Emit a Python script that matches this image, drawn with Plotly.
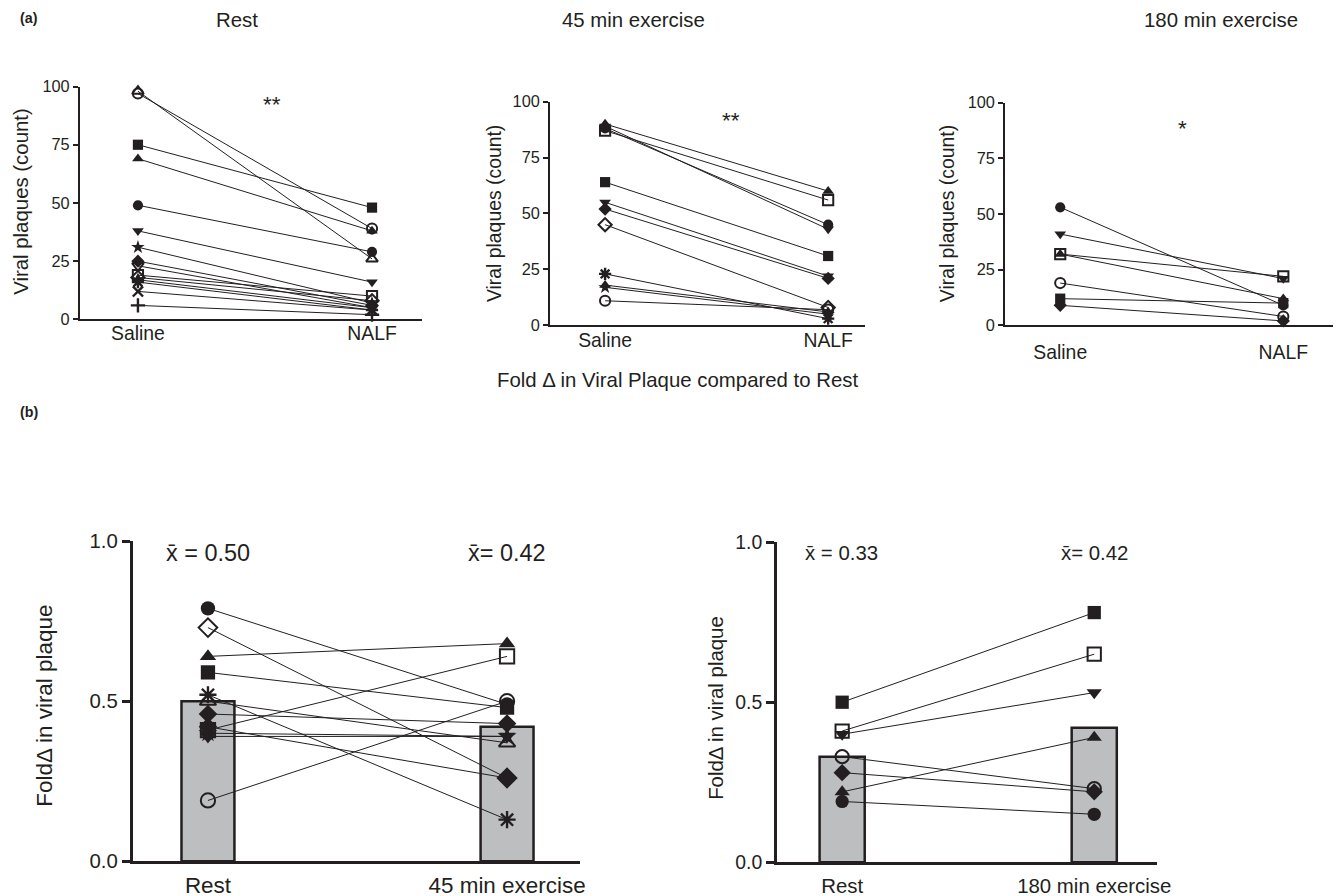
import plotly.graph_objects as go

# ---------------- data ----------------
cats_a = ["Saline", "NALF"]

rest_saline = [97, 98, 75, 69, 49, 38, 31, 25, 23, 19, 18, 17, 16, 12, 6]
rest_nalf   = [39, 26, 48, 38, 29, 16, 7, 6, 5, 10, 8, 5, 4, 4, 2]

ex45_saline = [90, 87, 88, 89, 64, 55, 52, 45, 23, 18, 17, 11]
ex45_nalf   = [60, 56, 45, 43, 31, 22, 21, 8, 3, 6, 5, 7]

ex180_saline = [53, 41, 32, 32, 19, 12, 9]
ex180_nalf   = [9, 21, 22, 12, 4, 10, 2]

cats_b1 = ["Rest", "45 min exercise"]
fold45_rest = [0.79, 0.73, 0.64, 0.59, 0.52, 0.50, 0.46, 0.41, 0.42, 0.39, 0.40, 0.19]
fold45_ex   = [0.49, 0.26, 0.68, 0.48, 0.13, 0.37, 0.43, 0.64, 0.26, 0.39, 0.39, 0.50]
fold45_means = [0.50, 0.42]

cats_b2 = ["Rest", "180 min exercise"]
fold180_rest = [0.50, 0.41, 0.40, 0.22, 0.33, 0.28, 0.19]
fold180_ex   = [0.78, 0.65, 0.53, 0.39, 0.23, 0.22, 0.15]
fold180_means = [0.33, 0.42]

yticks_a = [0, 25, 50, 75, 100]
yticks_b = [0.0, 0.5, 1.0]

# ---------------- styles ----------------
sym_rest = ["circle-open", "triangle-up-open", "square", "triangle-up", "circle",
            "triangle-down", "star", "diamond", "triangle-down-open", "square-open",
            "diamond-open", "diamond-tall", "asterisk-open", "x-thin-open", "cross-thin-open"]
sym_45 = ["triangle-up", "square-open", "circle", "triangle-down", "square",
          "triangle-down", "diamond", "diamond-open", "asterisk-open", "triangle-up",
          "star", "circle-open"]
sym_180 = ["circle", "triangle-down", "square-open", "triangle-up", "circle-open",
           "square", "diamond"]
sym_b1 = ["circle", "diamond-open", "triangle-up", "square", "asterisk-open",
          "triangle-up-open", "diamond", "square-open", "diamond", "triangle-down",
          "star", "circle-open"]
sym_b2 = ["square", "square-open", "triangle-down", "triangle-up", "circle-open",
          "diamond", "circle"]

INK = "#231f20"
FONT = "Liberation Sans, Arial, sans-serif"
W, H = 1341, 896

# page-to-figure calibration (the page is shown slightly offset / scaled)
OX, OY, SX, SY = 8.1, 20.7, 0.990, 0.972
FS = 1 / 0.98  # font/marker compensation


def fx(px):
    return (px - OX) / SX


def fy(py):
    return (py - OY) / SY


def clamp(v):
    return min(1.0, max(0.0, v))


def xd(a, b):
    return [clamp(fx(a) / W), clamp(fx(b) / W)]


def yd(top, bottom):
    return [clamp(1 - fy(bottom) / H), clamp(1 - fy(top) / H)]


def xrange(left, right, c0, c1):
    u = c1 - c0
    return [(left - c0) / u, 1 + (right - c1) / u]


fig = go.Figure()


def add_pairs(xa, ya, cats, v0, v1, syms, size):
    for a, b, s in zip(v0, v1, syms):
        thin = s.endswith("-open") and ("asterisk" in s or "thin" in s)
        lw = 2.4 if thin else (2 if s.endswith("-open") else 0)
        fig.add_trace(go.Scatter(
            x=cats, y=[a, b], xaxis=xa, yaxis=ya, mode="lines+markers",
            line=dict(color=INK, width=1),
            marker=dict(symbol=s, size=size * FS, color=INK, line=dict(color=INK, width=lw)),
            showlegend=False, cliponaxis=False, hoverinfo="skip"))


def add_bars(xa, ya, cats, means, width):
    fig.add_trace(go.Bar(
        x=cats, y=means, xaxis=xa, yaxis=ya, width=width,
        marker=dict(color="#bcbec0", line=dict(color=INK, width=2.5)),
        showlegend=False, hoverinfo="skip"))


add_bars("x4", "y4", cats_b1, fold45_means, 0.177)
add_bars("x5", "y5", cats_b2, fold180_means, 0.179)
add_pairs("x", "y", cats_a, rest_saline, rest_nalf, sym_rest, 10)
add_pairs("x2", "y2", cats_a, ex45_saline, ex45_nalf, sym_45, 10)
add_pairs("x3", "y3", cats_a, ex180_saline, ex180_nalf, sym_180, 10)
add_pairs("x4", "y4", cats_b1, fold45_rest, fold45_ex, sym_b1, 14)
add_pairs("x5", "y5", cats_b2, fold180_rest, fold180_ex, sym_b2, 13)


def xaxis(dom, rng, anchor, size, standoff, lw):
    return dict(domain=dom, range=rng, anchor=anchor, type="category",
                showline=True, linecolor=INK, linewidth=lw, ticks="",
                showgrid=False, zeroline=False,
                tickfont=dict(family=FONT, size=size * FS, color=INK),
                ticklabelstandoff=standoff, fixedrange=True)


def yaxis(dom, rng, anchor, tickvals, ticktext, size, lw, tl):
    return dict(domain=dom, range=rng, anchor=anchor,
                showline=True, linecolor=INK, linewidth=lw,
                ticks="outside", ticklen=tl, tickwidth=lw, tickcolor=INK,
                tickvals=tickvals, ticktext=ticktext,
                showgrid=False, zeroline=False,
                tickfont=dict(family=FONT, size=size * FS, color=INK), fixedrange=True)


ya_text = [str(v) for v in yticks_a]
yb_text = [f"{v:.1f}" for v in yticks_b]

fig.update_layout(
    width=W, height=H, margin=dict(l=0, r=0, t=0, b=0),
    paper_bgcolor="white", plot_bgcolor="rgba(0,0,0,0)",
    barmode="overlay",
    xaxis=xaxis(xd(80, 422), xrange(80, 422, 138, 372), "y", 19, -5, 2),
    yaxis=yaxis(yd(88, 320), [0, 100], "x", yticks_a, ya_text, 16, 2, 5),
    xaxis2=xaxis(xd(550, 865), xrange(550, 865, 605, 828), "y2", 19, -4, 2),
    yaxis2=yaxis(yd(103, 326), [0, 100], "x2", yticks_a, ya_text, 16, 2, 5),
    xaxis3=xaxis(xd(1005, 1334), xrange(1005, 1334, 1060, 1283), "y3", 19, 8, 2),
    yaxis3=yaxis(yd(104, 326), [0, 100], "x3", yticks_a, ya_text, 16, 2, 5),
    xaxis4=xaxis(xd(133, 580), xrange(133, 580, 208, 507), "y4", 22, 2, 3),
    yaxis4=yaxis(yd(541, 860), [0, 1], "x4", yticks_b, yb_text, 20, 3, 8),
    xaxis5=xaxis(xd(777, 1157), xrange(777, 1157, 842, 1094), "y5", 20, 3, 3),
    yaxis5=yaxis(yd(542, 861), [0, 1], "x5", yticks_b, yb_text, 19, 3, 8),
)


def note(text, x, y, size, bold=False, angle=0):
    fig.add_annotation(
        text=f"<b>{text}</b>" if bold else text,
        x=fx(x) / W, y=1 - fy(y) / H, xref="paper", yref="paper",
        xanchor="center", yanchor="middle", showarrow=False, textangle=angle,
        font=dict(family=FONT, size=size * FS, color=INK))


note("(a)", 29, 20, 14, bold=True)
note("(b)", 29, 412, 14, bold=True)
note("Rest", 237, 22, 20)
note("45 min exercise", 633, 22, 20)
note("180 min exercise", 1221, 22, 20)
note("Fold \u0394 in Viral Plaque compared to Rest", 678, 380, 20)

note("Viral plaques (count)", 21, 202, 20, angle=-90)
note("Viral plaques (count)", 494, 215, 19, angle=-90)
note("Viral plaques (count)", 947, 215, 19, angle=-90)
note("Fold\u0394 in viral plaque", 45, 705, 22, angle=-90)
note("Fold\u0394 in viral plaque", 716, 707, 20, angle=-90)

note("**", 272, 106, 22)
note("**", 731, 122, 22)
note("*", 1182, 130, 22)

note(f"x\u0304 = {fold45_means[0]:.2f}", 208, 553, 23)
note(f"x\u0304= {fold45_means[1]:.2f}", 507, 553, 23)
note(f"x\u0304 = {fold180_means[0]:.2f}", 841, 553, 20)
note(f"x\u0304= {fold180_means[1]:.2f}", 1094, 553, 20)

fig.write_html("out.html")
